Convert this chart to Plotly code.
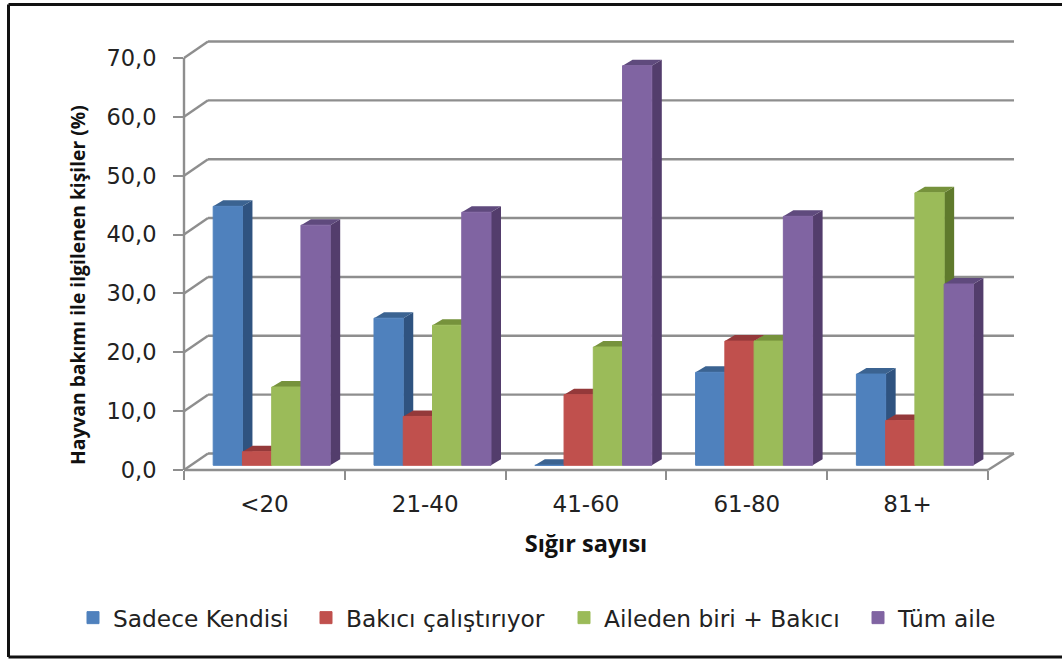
import plotly.graph_objects as go

categories = ["<20", "21-40", "41-60", "61-80", "81+"]
series_names = ["Sadece Kendisi", "Bakıcı çalıştırıyor", "Aileden biri + Bakıcı", "Tüm aile"]
sadece_kendisi = [44.0, 25.0, 0.0, 15.8, 15.5]
bakici = [2.3, 8.3, 12.0, 21.1, 7.6]
aileden = [13.3, 23.8, 20.1, 21.1, 46.3]
tum_aile = [40.8, 43.0, 67.9, 42.3, 30.8]
all_values = [sadece_kendisi, bakici, aileden, tum_aile]
tick_values = [0, 10, 20, 30, 40, 50, 60, 70]

front = ["#4F81BD", "#C0504D", "#9BBB59", "#8064A2"]
top_col = ["#3B6391", "#94393A", "#76923C", "#5F4A7D"]
side_col = ["#2F5380", "#7E2F2D", "#5F7A2C", "#533D6C"]

GREY = "#8E8E8E"
TEXT = "#222222"
W, H = 1062, 659
L, R, T, B = 184, 988, 58, 470
px_x = (R - L) / 5
px_y = (B - T) / 70

bar_w = 29.25 / px_x
bar_off = 29.2 / px_x
bar_dx, bar_dy = 10 / px_x, 6 / px_y
bar_base = 4.7 / px_y
legend_left = [73, 306, 564, 858]


def fx(p):
    return (p - L) / (R - L)


def fy(p):
    return (B - p) / (B - T)


fig = go.Figure()

for s, (name, vals) in enumerate(zip(series_names, all_values)):
    xs = [c + bar_off + (s + 0.5) * bar_w for c in range(len(categories))]
    sx, sy, tx, ty = [], [], [], []
    for xc, v in zip(xs, vals):
        xl, xr = xc - bar_w / 2, xc + bar_w / 2
        t = bar_base + v
        sx += [xr, xr, xr + bar_dx, xr + bar_dx, xr, None]
        sy += [bar_base, t, t + bar_dy, bar_base + bar_dy, bar_base, None]
        tx += [xl, xr, xr + bar_dx, xl + bar_dx, xl, None]
        ty += [t, t, t + bar_dy, t + bar_dy, t, None]
    fig.add_trace(go.Scatter(x=sx, y=sy, mode="none", fill="toself", fillcolor=side_col[s],
                             showlegend=False, hoverinfo="skip", cliponaxis=False, zorder=2 * s + 1))
    fig.add_trace(go.Scatter(x=tx, y=ty, mode="none", fill="toself", fillcolor=top_col[s],
                             showlegend=False, hoverinfo="skip", cliponaxis=False, zorder=2 * s + 1))
    fig.add_trace(go.Bar(x=xs, y=vals, base=bar_base, width=bar_w, name=name,
                         legend="legend" if s == 0 else f"legend{s + 1}",
                         marker=dict(color=front[s], line=dict(color=front[s], width=1)),
                         cliponaxis=False, zorder=2 * s + 2))

shapes = []
# frame
for a, b, c, d in [(8.5, 4.5, 8.5, 657), (8.5, 4.5, W, 4.5), (8.5, 657, W, 657)]:
    shapes.append(dict(type="line", xref="paper", yref="paper", x0=fx(a), y0=fy(b), x1=fx(c), y1=fy(d),
                       layer="below", line=dict(color="#111111", width=3)))
# axis lines, side wall and back wall lines (pixel offsets of the 3-D box)
ax = dict(type="line", xref="paper", yref="paper", layer="below", line=dict(color=GREY, width=2.4))
shapes.append(dict(ax, x0=0, y0=0, x1=1, y1=0))
shapes.append(dict(ax, x0=0, y0=0, x1=0, y1=1))
for v in tick_values:
    y = v / 70
    shapes.append(dict(ax, x0=0, y0=y, x1=fx(208), y1=y + 16.5 / (B - T)))
    shapes.append(dict(ax, x0=fx(208), y0=y + 16.5 / (B - T), x1=fx(1014), y1=y + 16.5 / (B - T)))
shapes.append(dict(ax, x0=1, y0=0, x1=fx(1014), y1=16.5 / (B - T)))

legend_font = dict(size=23.3, family="DejaVu Sans", color=TEXT)
legends = {("legend" if i == 0 else f"legend{i + 1}"): dict(
    orientation="h", x=fx(lx), y=fy(596), xanchor="left", yanchor="top",
    font=legend_font, itemclick=False, bgcolor="rgba(0,0,0,0)") for i, lx in enumerate(legend_left)}

fig.update_layout(
    width=W, height=H, autosize=False,
    margin=dict(l=L, r=W - R, t=T, b=H - B, pad=0),
    paper_bgcolor="white", plot_bgcolor="rgba(0,0,0,0)",
    separators=", ",
    barmode="overlay", showlegend=True,
    font=dict(family="DejaVu Sans", color=TEXT),
    xaxis=dict(range=[0, 5], tickmode="array", tickvals=[i + 0.5 for i in range(5)], ticktext=categories,
               ticks="", showgrid=False, zeroline=False, showline=False,
               tickfont=dict(size=23, family="DejaVu Sans", color=TEXT), ticklabelstandoff=18,
               minor=dict(tickmode="array", tickvals=[0, 1, 2, 3, 4, 5], ticks="outside", ticklen=9,
                          tickwidth=2.4, tickcolor=GREY, showgrid=False),
               title=dict(text="Sığır sayısı", standoff=19,
                          font=dict(size=23.5, family="Open Sans", weight="bold", color="#111111"))),
    yaxis=dict(range=[0, 70], tickmode="array", tickvals=tick_values, tickformat=".1f",
               ticks="outside", ticklen=10, tickwidth=2.4, tickcolor=GREY,
               showgrid=False, zeroline=False, showline=False,
               tickfont=dict(size=22.5, family="DejaVu Sans", color=TEXT), ticklabelstandoff=12),
    annotations=[dict(text="<b>Hayvan bakımı ile ilgilenen kişiler (%)</b>", textangle=-90,
                      xref="paper", yref="paper", x=fx(77), y=fy(285), showarrow=False,
                      xanchor="center", yanchor="middle",
                      font=dict(size=19.3, family="Open Sans", color="#111111"))],
    shapes=shapes,
    **legends,
)

fig.write_html("out.html", config=dict(displayModeBar=False),
               post_script="document.body.style.margin='0';document.body.style.overflow='hidden';")
